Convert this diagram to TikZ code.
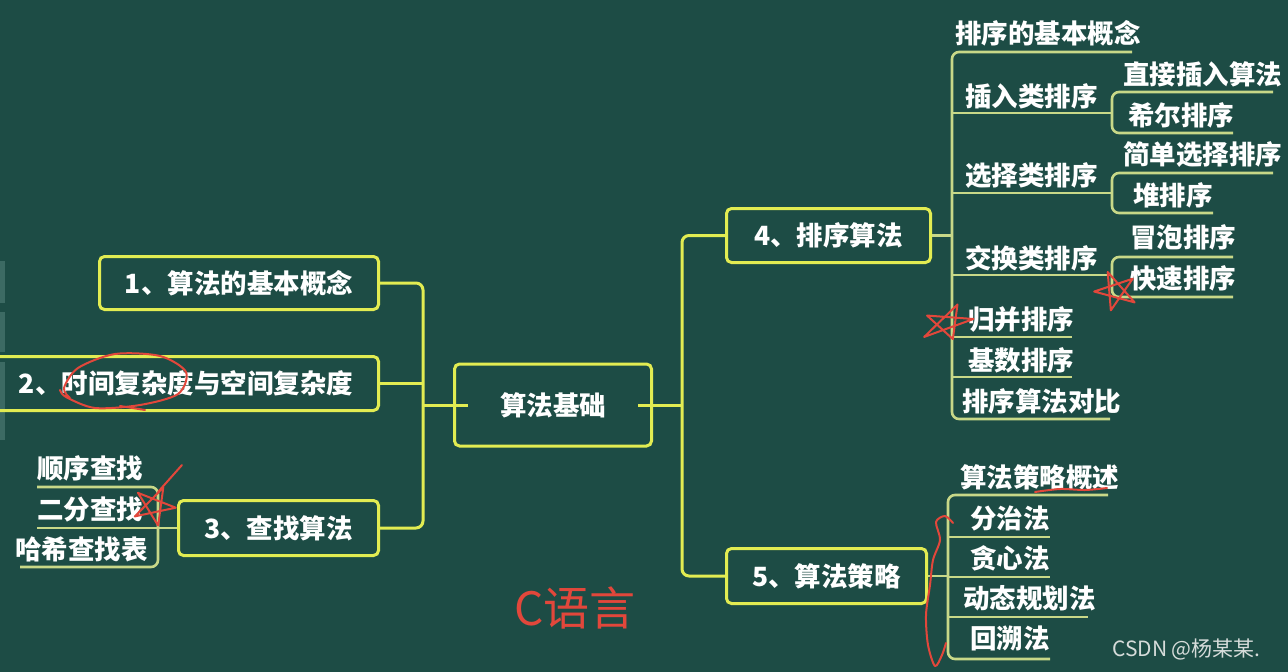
\documentclass[tikz,border=0pt]{standalone}
\usepackage{fontspec}
\setmainfont{Noto Sans CJK SC}
\definecolor{board}{HTML}{1D4C45}
\definecolor{ylw}{HTML}{E2EC52}
\definecolor{pale}{HTML}{C8D888}
\definecolor{chalkred}{HTML}{E2473B}
\definecolor{wmgrey}{HTML}{D6DCDA}
\definecolor{strip}{HTML}{3C6A63}
\tikzset{
  box/.style={draw=ylw, line width=3pt, rounded corners=5pt, text=white,
    font=\bfseries\fontsize{26.5}{30}\selectfont, inner sep=0pt},
  lbl/.style={text=white, font=\bfseries\fontsize{26.5}{30}\selectfont, inner sep=0pt, anchor=west},
  mainline/.style={draw=ylw, line width=3pt, rounded corners=7pt},
  subline/.style={draw=pale, line width=2.6pt, rounded corners=7pt},
  redink/.style={draw=chalkred, line width=2pt, line cap=round, line join=round},
}
\begin{document}
\begin{tikzpicture}[x=1pt,y=-1pt]
\useasboundingbox (0,0) rectangle (1288,672);
\clip (0,0) rectangle (1288,672);
\fill[board] (0,0) rectangle (1288,672);
% faint strips at left edge
\fill[strip] (0,261) rectangle (5,303);
\fill[strip] (0,312) rectangle (5,352);
\fill[strip] (0,362) rectangle (5,440);

% ---------- boxes ----------
\node[box, minimum width=197, minimum height=82] (root) at (553,405) {算法基础};
\node[box, minimum width=279, minimum height=53] (b1) at (239,283) {1、算法的基本概念};
\node[box, minimum width=385, minimum height=54] (b2) at (186,383.5) {2、时间复杂度与空间复杂度};
\node[box, minimum width=200, minimum height=55] (b3) at (278.5,528) {3、查找算法};
\node[box, minimum width=204, minimum height=54] (b4) at (828.5,235.5) {4、排序算法};
\node[box, minimum width=200, minimum height=55] (b5) at (826.5,576) {5、算法策略};

% ---------- main connectors ----------
\coordinate (lj) at (423,405);
\coordinate (rj) at (682,405);
\draw[mainline] (b1.east) -- (423,283) -- (423,528) -- (b3.east);
\draw[mainline] (b2.east) -- (423,383.5);
\draw[mainline, rounded corners=0] (lj) -- ([xshift=15]root.west);
\draw[mainline, rounded corners=0] ([xshift=-15]root.east) -- (rj);
\draw[mainline] (b4.west) -- (682,235.5) -- (682,576) -- (b5.west);

% ---------- search (3) children ----------
\node[lbl] (s1) at (37,468) {顺序查找};
\node[lbl] (s2) at (37,509) {二分查找};
\node[lbl] (s3) at (15,549) {哈希查找表};
\draw[subline] (37,487) -- (158,487) -- (158,567) -- (20,567);
\draw[subline, rounded corners=0] (b3.west) -- (37,528);

% ---------- sorting (4) children ----------
\node[lbl] (t1) at (955,33) {排序的基本概念};
\node[lbl] (t2) at (965,96) {插入类排序};
\node[lbl] (t21) at (1123,74) {直接插入算法};
\node[lbl] (t22) at (1128,115) {希尔排序};
\node[lbl] (t3) at (965,176) {选择类排序};
\node[lbl] (t31) at (1123,155) {简单选择排序};
\node[lbl] (t32) at (1133,195) {堆排序};
\node[lbl] (t4) at (965,258) {交换类排序};
\node[lbl] (t41) at (1130,237) {冒泡排序};
\node[lbl] (t42) at (1130,278) {快速排序};
\node[lbl] (t5) at (968,319) {归并排序};
\node[lbl] (t6) at (968,360) {基数排序};
\node[lbl] (t7) at (962,401) {排序算法对比};

\draw[subline] (1132,52) -- (952,52) -- (952,419) -- (1110,419);
\draw[subline, rounded corners=0] (b4.east) -- (952,235.5);
\draw[subline, rounded corners=0] (952,113) -- (1112,113);
\draw[subline, rounded corners=0] (952,193) -- (1112,193);
\draw[subline, rounded corners=0] (952,275) -- (1112,275);
\draw[subline, rounded corners=0] (952,337) -- (1072,337);
\draw[subline, rounded corners=0] (952,377) -- (1072,377);
\draw[subline] (1273,92) -- (1112,92) -- (1112,133) -- (1233,133);
\draw[subline] (1273,173) -- (1112,173) -- (1112,213) -- (1213,213);
\draw[subline] (1233,257) -- (1112,257) -- (1112,297) -- (1233,297);

% ---------- strategy (5) children ----------
\node[lbl] (u1) at (960,477) {算法策略概述};
\node[lbl] (u2) at (970,518) {分治法};
\node[lbl] (u3) at (970,558) {贪心法};
\node[lbl] (u4) at (963,598) {动态规划法};
\node[lbl] (u5) at (970,638) {回溯法};
\draw[subline] (1108,495) -- (948,495) -- (948,659) -- (1050,659);
\draw[subline, rounded corners=0] (b5.east) -- (948,576);
\draw[subline, rounded corners=0] (948,537) -- (1050,537);
\draw[subline, rounded corners=0] (948,577) -- (1050,577);
\draw[subline, rounded corners=0] (948,617) -- (1088,617);

% ---------- watermark ----------
\node[anchor=west, inner sep=0pt, text=wmgrey, font=\fontsize{21}{21}\selectfont] (wm) at (1112,649) {CSDN @杨某某.};

% ---------- red hand annotations ----------
\draw[redink] plot[smooth] coordinates {(70,398) (64,388) (78,368) (115,354) (160,356) (186,372) (178,394) (140,405) (95,408) (66,397) (60,390)};
\draw[redink] (120,406) -- (145,410);
% star near 二分查找
\draw[redink] (182,465) -- (158,492);
\begin{scope}[shift={(154,506)}, rotate=12, xscale=1.1]
\draw[redink] (90:20) -- (234:20) -- (18:20) -- (162:20) -- (306:20) -- cycle;
\end{scope}
% star near 快速排序
\begin{scope}[shift={(1116,291)}, rotate=-15, xscale=1.1]
\draw[redink] (90:20) -- (234:20) -- (18:20) -- (162:20) -- (306:20) -- cycle;
\end{scope}
% star near 归并排序
\begin{scope}[shift={(947,323)}, rotate=20, xscale=1.45, yscale=0.9]
\draw[redink] (90:19) -- (234:19) -- (18:19) -- (162:19) -- (306:19) -- cycle;
\end{scope}
% underline under 略概述
\draw[redink] plot[smooth] coordinates {(1035,492) (1060,489) (1085,490) (1107,488)};
% squiggle left of strategy bracket
\draw[redink] plot[smooth] coordinates {(953,523) (945,516) (936,522) (940,540) (933,560) (930,585) (926,615) (928,645) (935,666) (942,655) (946,643)};
% C语言 (handwritten)
\node[text=chalkred, inner sep=0pt, font=\fontsize{46}{46}\selectfont] (clang) at (575,608) {C语言};
\end{tikzpicture}
\end{document}
